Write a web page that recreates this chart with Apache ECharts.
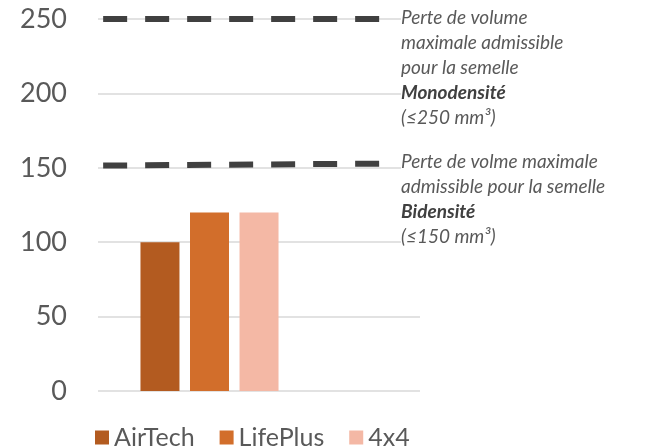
<!DOCTYPE html>
<html>
<head>
<meta charset="utf-8">
<title>Perte de volume</title>
<script src="https://cdn.jsdelivr.net/npm/echarts@6/dist/echarts.min.js"></script>
<style>
html,body{margin:0;padding:0;background:#fff;}
#box1{width:649px;height:448px;}
</style>
</head>
<body>
<div id="box1"></div>
<script>
// donnees
var semelles = ['AirTech', 'LifePlus', '4x4'];
var pertes = [100, 120, 120];//perte de volume mm3
var couleurs = ['#B35B20', '#D26E2B', '#F4B8A5'];
var yTicks = [0, 50, 100, 150, 200, 250];

// lignes limites (pointilles)
var limiteX = [0.016, 0.885];
var limiteMono = [250, 250];
var limiteBi = [151.5, 152.8];
var texteMono = ['Perte de volume', 'maximale admissible', 'pour la semelle', '{b|Monodensité}', '(≤250 mm³)'];
var texteBi = ['Perte de volme maximale', 'admissible pour la semelle', '{b|Bidensité}', '(≤150 mm³)'];

var police = 'Lato, "Open Sans", sans-serif';
var gris = '#595959';

function pts(ys){
	var arr = [];
	for (var i = 0; i < ys.length; i++) {
		arr.push([limiteX[i], ys[i]]);
	}
	return arr;
}

function ligneLimite(nom, ys, lignes){
	return {
		name: nom,
		type: 'line',
		xAxisIndex: 1,
		yAxisIndex: 1,
		symbol: 'none',
		silent: true,
		z: 5,
		lineStyle: {color: '#404040', width: 6, type: [24, 18], cap: 'butt'},
		endLabel: {
			show: true,
			distance: 18,
			align: 'left',
			verticalAlign: 'top',
			offset: [0, -14],
			backgroundColor: '#fff',
			formatter: function(){ return lignes.join('\n'); },
			color: gris,
			fontFamily: police,
			fontStyle: 'italic',
			fontSize: 19,
			lineHeight: 25,
			rich: {
				b: {color: '#404040', fontFamily: police, fontStyle: 'italic', fontWeight: 'bold', fontSize: 19, lineHeight: 25}
			}
		},
		data: pts(ys)
	};
}

function box1(){
	var myChart = echarts.init(document.getElementById('box1'));
	var yMin = yTicks[0], yMax = yTicks[yTicks.length - 1];
	var series = [];
	for (var i = 0; i < semelles.length; i++) {
		series.push({
			name: semelles[i],
			type: 'bar',
			xAxisIndex: 0,
			yAxisIndex: 0,
			barWidth: 39,
			barGap: '27%',
			itemStyle: {color: couleurs[i]},
			data: [pertes[i]]
		});
	}
	series.push(ligneLimite('mono', limiteMono, texteMono));
	series.push(ligneLimite('bi', limiteBi, texteBi));

	var option = {
		animation: false,
		textStyle: {fontFamily: police},
		grid: [
			{left: 98, top: 19, bottom: 57, width: 223},//barres
			{left: 98, top: 19, bottom: 57, right: 229}//quadrillage
		],
		legend: {
			data: semelles,
			left: 90,
			top: 420,
			icon: 'rect',
			itemWidth: 14,
			itemHeight: 14,
			itemGap: 25,
			textStyle: {color: gris, fontSize: 25, fontFamily: police}
		},
		xAxis: [
			{type: 'category', gridIndex: 0, data: [''], show: false},
			{type: 'value', gridIndex: 1, min: 0, max: 1, show: false}
		],
		yAxis: [
			{type: 'value', gridIndex: 0, min: yMin, max: yMax, interval: 50, show: false},
			{
				type: 'value', gridIndex: 1, min: yMin, max: yMax, interval: 50,
				axisLine: {show: false},
				axisTick: {show: false},
				axisLabel: {color: gris, fontSize: 27, fontFamily: police, margin: 31},
				splitLine: {lineStyle: {color: '#D9D9D9', width: 1.5}}
			}
		],
		series: series
	};
	myChart.setOption(option, true);
}

box1();
</script>
</body>
</html>
